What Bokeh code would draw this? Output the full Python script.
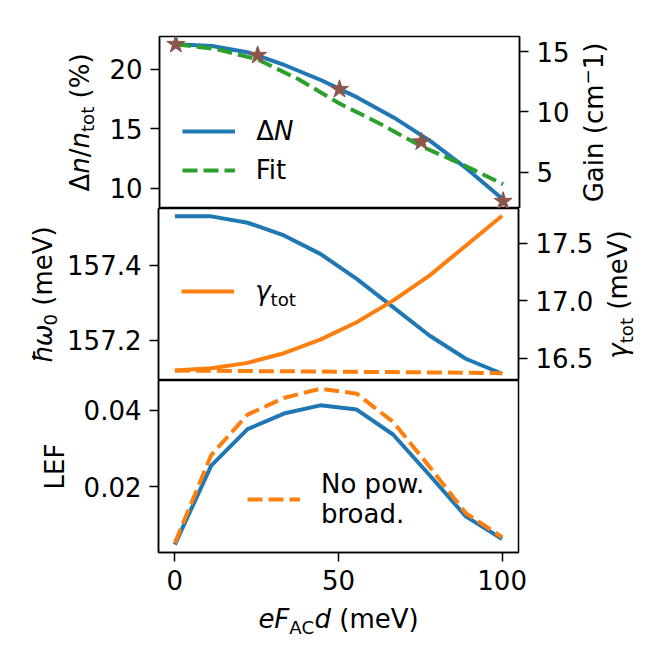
from math import pi
from bokeh.plotting import figure
from bokeh.models import (Range1d, LinearAxis, FixedTicker, PrintfTickFormatter,
                          Legend, LegendItem, Label)
from bokeh.layouts import column, row
from bokeh.embed import file_html
from bokeh.resources import INLINE

# ---------------- data ----------------
x_vals = [0, 11.11, 22.22, 33.33, 44.44, 55.56, 66.67, 77.78, 88.89, 100]

dn_percent = [22.10, 21.96, 21.40, 20.34, 19.08, 17.62, 15.94, 13.97, 11.66, 9.08]
fit_x = [0, 12.5, 25, 37.5, 50, 62.5, 75, 87.5, 100]
fit_gain = [15.6, 15.2, 14.35, 12.7, 10.7, 9.0, 7.15, 5.65, 4.0]
star_x = [0, 25, 50, 75, 100]
star_gain = [15.6, 14.69, 11.87, 7.52, 2.59]

hw0 = [157.531, 157.531, 157.514, 157.480, 157.431, 157.364, 157.289, 157.213, 157.151, 157.111]
gamma_tot = [16.392, 16.413, 16.459, 16.543, 16.661, 16.812, 17.000, 17.217, 17.477, 17.737]
gamma_nopb = [16.392, 16.390, 16.388, 16.386, 16.384, 16.381, 16.379, 16.376, 16.373, 16.370]

lef = [0.00476, 0.02548, 0.03503, 0.03913, 0.04129, 0.04017, 0.03364, 0.02303, 0.01217, 0.00625]
lef_nopb = [0.00521, 0.02825, 0.03886, 0.04322, 0.04565, 0.04434, 0.03696, 0.02522, 0.01304, 0.0067]

x_ticks = [0, 50, 100]
top_left_ticks = [10, 15, 20]
top_right_ticks = [5, 10, 15]
mid_left_ticks = [157.2, 157.4]
mid_right_ticks = [16.5, 17.0, 17.5]
bot_ticks = [0.02, 0.04]

BLUE = "#1f77b4"
ORANGE = "#ff7f0e"
GREEN = "#2ca02c"
BROWN = "#8c564b"
FONT = "DejaVu Sans"
FS = 26
LW = 4
ROT_K = 0.36  # text is drawn centred on its anchor; shift so that anchor = baseline

# DejaVu Sans advance widths (em)
W = {' ': 0.318, '(': 0.390, ')': 0.390, '%': 0.950, '/': 0.337, '.': 0.318,
     'A': 0.684, 'C': 0.698, 'E': 0.632, 'F': 0.575, 'G': 0.770, 'L': 0.557,
     'N': 0.748, 'V': 0.684, 'a': 0.613, 'c': 0.550, 'd': 0.635, 'e': 0.615,
     'i': 0.278, 'm': 0.974, 'n': 0.634, 'o': 0.612, 't': 0.392, 'Δ': 0.684,
     'γ': 0.592, 'ω': 0.792, 'ħ': 0.634, '−': 0.838, '0': 0.636, '1': 0.636}


def tw(s, size):
    return sum(W.get(ch, 0.62) for ch in s) * size


def compose(p, pieces, x, y, vertical=False, align="center", size=FS):
    total = sum(tw(t, size * sc) for t, it, sc, sh in pieces)
    start = (y if vertical else x)
    pos = start - total / 2 if align == "center" else start
    for t, it, sc, sh in pieces:
        fs = size * sc
        lead = len(t) - len(t.lstrip(" "))
        shown = t.lstrip(" ")
        off = tw(" " * lead, fs)
        if vertical:
            lab = Label(x=x - sh * size - ROT_K * fs, y=pos + off, angle=pi / 2)
        else:
            lab = Label(x=pos + off, y=y + sh * size + ROT_K * fs)
        lab.x_units = "screen"
        lab.y_units = "screen"
        lab.text = shown
        lab.text_font = FONT
        lab.text_font_size = f"{fs:.1f}px"
        lab.text_font_style = "italic" if it else "normal"
        lab.text_color = "black"
        lab.text_align = "left"
        lab.text_baseline = "alphabetic"
        p.add_layout(lab)
        pos += tw(t, fs)


def style_axis(ax, ticks, fmt):
    ax.ticker = FixedTicker(ticks=ticks)
    ax.formatter = PrintfTickFormatter(format=fmt)
    ax.major_tick_out = 9
    ax.major_tick_in = 0
    ax.minor_tick_line_color = None
    ax.major_tick_line_width = 1.5
    ax.major_tick_line_color = "black"
    ax.axis_line_width = 1.5
    ax.axis_line_color = "black"
    ax.major_label_text_font = FONT
    ax.major_label_text_font_size = f"{FS}px"
    ax.major_label_text_color = "black"
    ax.major_label_standoff = 8
    ax.axis_label = None


def make_fig(yr, bl, br, bt, bb, show_x):
    p = figure(frame_width=360, frame_height=172,
               x_range=Range1d(-5, 105), y_range=Range1d(*yr),
               output_backend="svg", toolbar_location=None,
               min_border_left=bl, min_border_right=br,
               min_border_top=bt, min_border_bottom=bb)
    p.grid.visible = False
    p.outline_line_color = "black"
    p.outline_line_width = 1.5
    p.background_fill_color = "white"
    p.border_fill_color = "white"
    p.xaxis.visible = show_x
    style_axis(p.yaxis[0], [], "%d")
    if show_x:
        style_axis(p.xaxis[0], x_ticks, "%d")
    return p


def text_fig(w, h):
    f = figure(width=w, height=h, x_range=Range1d(0, 1), y_range=Range1d(0, 1),
               x_axis_type=None, y_axis_type=None, output_backend="svg",
               toolbar_location=None, min_border=0)
    f.outline_line_color = None
    f.grid.visible = False
    f.background_fill_color = "white"
    f.border_fill_color = "white"
    return f


def make_legend(items, loc, **kw):
    leg = Legend(items=items, location=loc, orientation="vertical",
                 padding=0, spacing=3, margin=0,
                 glyph_width=53, glyph_height=36, label_height=36,
                 label_standoff=21, border_line_color=None,
                 background_fill_alpha=0,
                 label_text_font=FONT, label_text_font_size=f"{FS}px",
                 label_text_color="black", **kw)
    return leg


# ---------------- top panel ----------------
p1 = make_fig((8.32, 22.75), 52, 57, 36, 0, False)
style_axis(p1.yaxis[0], top_left_ticks, "%d")
p1.extra_y_ranges = {"gain": Range1d(1.99, 16.25)}
ax1r = LinearAxis(y_range_name="gain")
style_axis(ax1r, top_right_ticks, "%d")
p1.add_layout(ax1r, "right")

r_dn = p1.line(x_vals, dn_percent, line_color=BLUE, line_width=LW)
r_fit = p1.line(fit_x, fit_gain, line_color=GREEN, line_width=LW,
                line_dash="15 6", y_range_name="gain")
p1.scatter(star_x, star_gain, marker="star", size=19, fill_color=BROWN,
           line_color=BROWN, y_range_name="gain")

p1.add_layout(make_legend([LegendItem(label=" ", renderers=[r_dn]),
                           LegendItem(label="Fit", renderers=[r_fit])],
                          (22.7, 20.3)))
compose(p1, [("Δ", False, 1, 0), ("N", True, 1, 0)], 96.7, 68, align="left")

lf1 = text_fig(106, 208)
compose(lf1, [("Δ", False, 1, 0), ("n", True, 1, 0), ("/", False, 1, 0),
              ("n", True, 1, 0), ("tot", False, 0.7, -0.2), (" (%)", False, 1, 0)],
        88.5, 86, vertical=True)
rf1 = text_fig(73, 208)
compose(rf1, [("Gain (cm", False, 1, 0), ("−", False, 0.7, 0.35), ("1)", False, 1, 0)],
        27, 86, vertical=True)

# ---------------- middle panel ----------------
p2 = make_fig((157.093, 157.552), 98, 78, 0, 0, False)
style_axis(p2.yaxis[0], mid_left_ticks, "%.1f")
p2.extra_y_ranges = {"gam": Range1d(16.306, 17.80)}
ax2r = LinearAxis(y_range_name="gam")
style_axis(ax2r, mid_right_ticks, "%.1f")
p2.add_layout(ax2r, "right")

p2.line(x_vals, hw0, line_color=BLUE, line_width=LW)
r_gam = p2.line(x_vals, gamma_tot, line_color=ORANGE, line_width=LW, y_range_name="gam")
p2.line(x_vals, gamma_nopb, line_color=ORANGE, line_width=LW, line_dash="15 6",
        y_range_name="gam")

p2.add_layout(make_legend([LegendItem(label=" ", renderers=[r_gam])], (22.7, 71)))
compose(p2, [("γ", True, 1, 0), ("tot", False, 0.7, -0.2)], 96.7, 80, align="left")

lf2 = text_fig(60, 172)
compose(lf2, [("ħ", True, 1, 0), ("ω", True, 1, 0), ("0", False, 0.7, -0.2),
              (" (meV)", False, 1, 0)], 51.7, 86, vertical=True)
rf2 = text_fig(52, 172)
compose(rf2, [("γ", True, 1, 0), ("tot", False, 0.7, -0.2), (" (meV)", False, 1, 0)],
        31, 86, vertical=True)

# ---------------- bottom panel ----------------
p3 = make_fig((0.0027, 0.0478), 78, 130, 0, 48, True)
style_axis(p3.yaxis[0], bot_ticks, "%.2f")

p3.line(x_vals, lef, line_color=BLUE, line_width=LW)
r_nopb = p3.line(x_vals, lef_nopb, line_color=ORANGE, line_width=LW, line_dash="15 6")

p3.add_layout(make_legend([LegendItem(label="No pow.\nbroad.", renderers=[r_nopb])],
                          (89, 23), label_text_line_height=1.08))

lf3 = text_fig(80, 220)
compose(lf3, [("LEF", False, 1, 0)], 63.5, 86, vertical=True)

xl = text_fig(648, 50)
compose(xl, [("eF", True, 1, 0), ("AC", False, 0.7, -0.2), ("d", True, 1, 0),
             (" (meV)", False, 1, 0)], 338, 22)

layout = column(row(lf1, p1, rf1, spacing=0),
                row(lf2, p2, rf2, spacing=0),
                row(lf3, p3, spacing=0),
                xl, spacing=0)
open("out.html", "w").write(file_html(layout, INLINE))
